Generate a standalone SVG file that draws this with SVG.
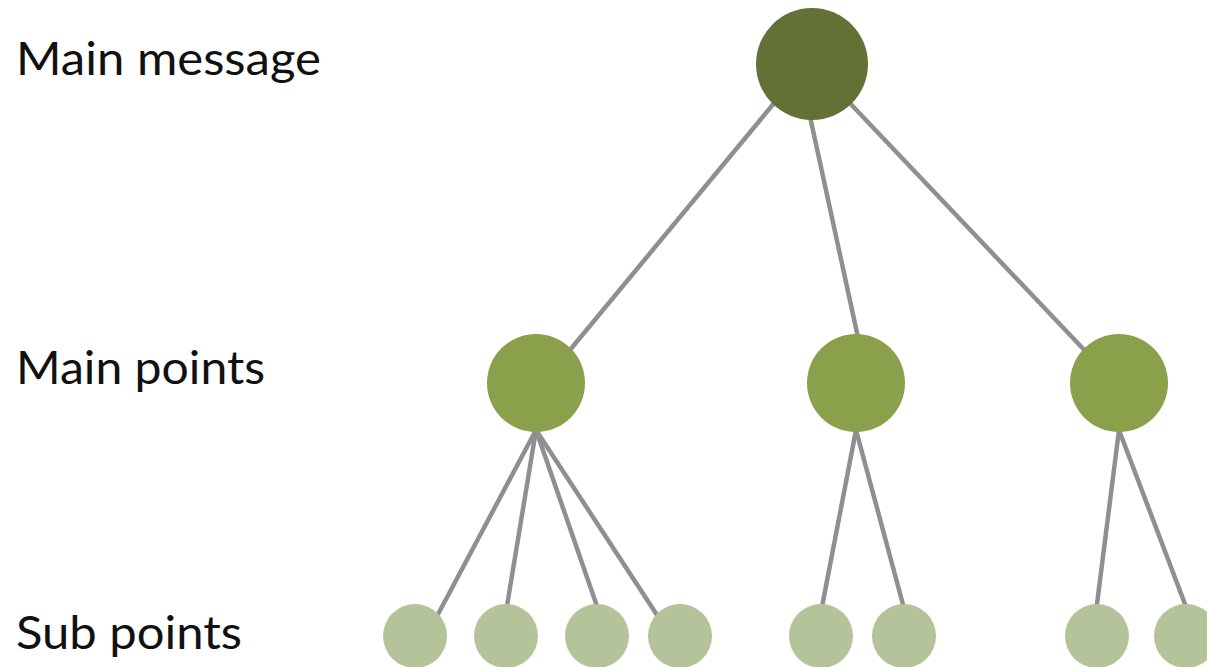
<svg xmlns="http://www.w3.org/2000/svg" width="1207" height="667" viewBox="0 0 1207 667">
<style>
.lbl{font-family:Lato,"Noto Sans","Liberation Sans",sans-serif;font-size:46px;fill:#111}
.edge{stroke:#8f8f8f;stroke-width:4.5;fill:none}
.top{fill:#627236}
.main{fill:#8aa04b}
.sub{fill:#b5c39b}
</style>
<rect width="1207" height="667" fill="#fff"/>
<g id="labels">
<text class="lbl" x="16" y="75" textLength="305" lengthAdjust="spacingAndGlyphs">Main message</text>
<text class="lbl" x="16" y="384" textLength="249" lengthAdjust="spacingAndGlyphs">Main points</text>
<text class="lbl" x="16" y="649" textLength="226" lengthAdjust="spacingAndGlyphs">Sub points</text>
</g>
<g id="connectors">
<line class="edge" x1="780" y1="96" x2="565" y2="356"/>
<line class="edge" x1="809" y1="112" x2="859" y2="342"/>
<line class="edge" x1="845" y1="98" x2="1090" y2="356"/>
<line class="edge" x1="536" y1="430" x2="436" y2="618"/>
<line class="edge" x1="536" y1="430" x2="506" y2="612"/>
<line class="edge" x1="536" y1="430" x2="599" y2="612"/>
<line class="edge" x1="536" y1="430" x2="659" y2="618"/>
<line class="edge" x1="856" y1="430" x2="821" y2="612"/>
<line class="edge" x1="856" y1="430" x2="905" y2="612"/>
<line class="edge" x1="1119" y1="430" x2="1096" y2="612"/>
<line class="edge" x1="1119" y1="430" x2="1188" y2="612"/>
</g>
<g id="node-main-message"><circle class="top" cx="812" cy="64" r="56"/></g>
<g id="node-main-1"><circle class="main" cx="536" cy="383" r="49"/></g>
<g id="node-main-2"><circle class="main" cx="856" cy="383" r="49"/></g>
<g id="node-main-3"><circle class="main" cx="1119" cy="383" r="49"/></g>
<g id="node-sub-1"><circle class="sub" cx="415" cy="636" r="32"/></g>
<g id="node-sub-2"><circle class="sub" cx="506" cy="636" r="32"/></g>
<g id="node-sub-3"><circle class="sub" cx="597" cy="636" r="32"/></g>
<g id="node-sub-4"><circle class="sub" cx="680" cy="636" r="32"/></g>
<g id="node-sub-5"><circle class="sub" cx="821" cy="636" r="32"/></g>
<g id="node-sub-6"><circle class="sub" cx="904" cy="636" r="32"/></g>
<g id="node-sub-7"><circle class="sub" cx="1097" cy="636" r="32"/></g>
<g id="node-sub-8"><circle class="sub" cx="1186" cy="636" r="32"/></g>
</svg>
